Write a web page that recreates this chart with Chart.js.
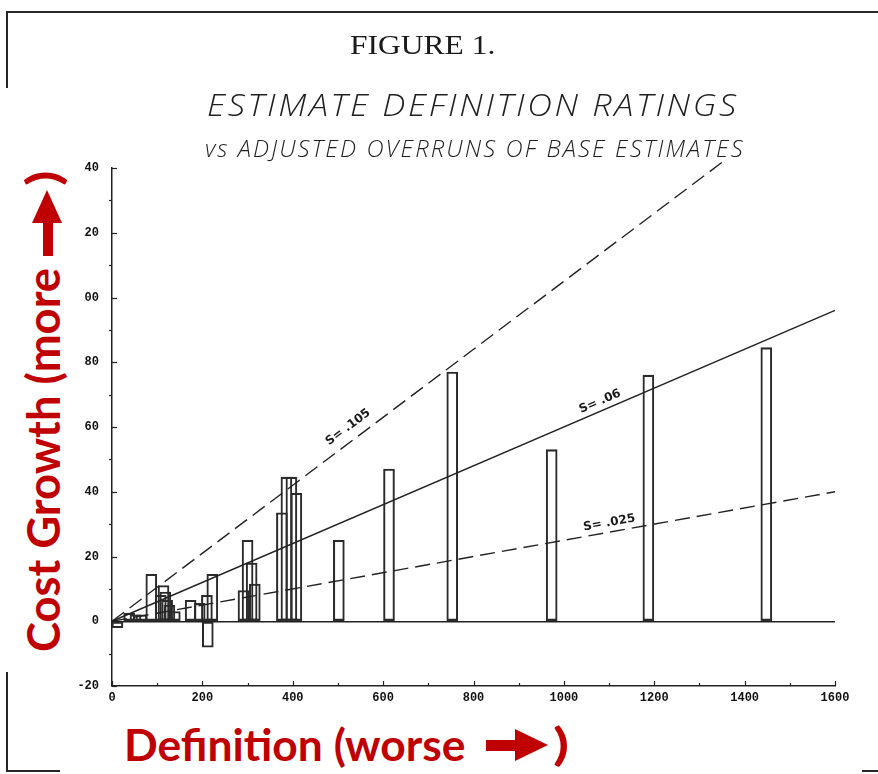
<!DOCTYPE html>
<html><head><meta charset="utf-8">
<script src="https://cdn.jsdelivr.net/npm/chart.js@4.4.1/dist/chart.umd.min.js"></script>
<style>
html,body{margin:0;padding:0;background:#fff;}
#wrap{position:relative;width:878px;height:774px;overflow:hidden;background:#fff;}
#frame{position:absolute;left:6px;top:11px;width:1000px;height:757px;border-top:2.5px solid #262626;border-left:2px solid #262626;border-bottom:2px solid #262626;z-index:0;}
canvas{position:absolute;left:0;top:0;z-index:1;}
.t{position:absolute;white-space:nowrap;line-height:1;transform-origin:0 0;z-index:3;display:inline-block;}
.mask{position:absolute;background:#fff;z-index:2;}
.red{color:#C00000;font-family:Lato,'Open Sans',sans-serif;font-weight:700;}
.plot{font-family:'Open Sans','DejaVu Sans',sans-serif;font-weight:300;font-style:italic;color:#1f1f1f;}
.arr{position:absolute;z-index:3;}
</style></head>
<body><div id="wrap">
<div id="frame"></div>
<canvas id="c" width="878" height="774"></canvas>
<div class="mask" style="left:0;top:88px;width:84px;height:584px"></div>
<div class="mask" style="left:60px;top:712px;width:802px;height:62px"></div>
<div id="fig" class="t" style="font-family:'Liberation Serif',serif;font-size:27px;color:#1a1a1a">FIGURE 1.</div>
<div id="t1" class="t plot" style="font-size:32px;letter-spacing:2.5px">ESTIMATE DEFINITION RATINGS</div>
<div id="t2" class="t plot" style="font-size:23px;letter-spacing:2px">vs ADJUSTED OVERRUNS OF BASE ESTIMATES</div>
<div id="xl" class="t red" style="font-size:44px">Definition (worse</div>
<div id="xp" class="t red" style="font-size:44px">)</div>
<div id="yl" class="t red" style="font-size:46px">Cost Growth (more</div>
<div id="yp" class="t red" style="font-size:46px">)</div>
<div class="arr" style="left:486px;top:729px;width:62px;height:33px">
  <div style="position:absolute;left:0;top:11px;width:31px;height:11px;background:#C00000"></div>
  <div style="position:absolute;left:29px;top:0;width:0;height:0;border-top:16.5px solid transparent;border-bottom:16.5px solid transparent;border-left:33px solid #C00000"></div>
</div>
<div class="arr" style="left:32px;top:190px;width:31px;height:66px">
  <div style="position:absolute;left:0;top:0;width:0;height:0;border-left:15.5px solid transparent;border-right:15.5px solid transparent;border-bottom:33px solid #C00000"></div>
  <div style="position:absolute;left:10.5px;top:31px;width:10px;height:35px;background:#C00000"></div>
</div>
</div>
<script>
// ---- data ----
const barX = [12, 38, 52, 65, 87, 108, 114, 118, 122, 127, 139, 174, 194, 210, 212, 222, 291, 300, 309, 316, 376, 386, 397, 408, 502, 613, 753, 973, 1187, 1448];
const barY = [-2, 2.5, 2, 2, 14.5, 8, 11, 9, 6.5, 5, 3, 6.5, 5.5, 8, -8, 14.5, 9.5, 25, 18, 11.5, 33.5, 44.5, 44.5, 39.5, 25, 47, 77, 53, 76, 84.5];
const slopes = [0.105, 0.06, 0.025];
const slopeLabels = ['S= .105', 'S= .06', 'S= .025'];
const slopeEndX = [1360, 1600, 1600];
const slopeLabelAtX = [540, 1088, 1104];
const slopeLabelLift = [10, 6, 6];
const slopeDash = [[15, 7], [], [15, 7]];
const xTickValues = [0, 200, 400, 600, 800, 1000, 1200, 1400, 1600];
const yTickValues = [-20, 0, 20, 40, 60, 80, 100, 120, 140];

// ---- text placement helpers ----
function fitX(id, x, y, w) {
  const el = document.getElementById(id);
  const nw = el.offsetWidth;
  el.style.left = x + 'px'; el.style.top = y + 'px';
  el.style.transform = 'scaleX(' + (w / nw) + ')';
}
function fitV(id, x, yStart, len) {
  const el = document.getElementById(id);
  const nw = el.offsetWidth;
  el.style.left = x + 'px'; el.style.top = yStart + 'px';
  el.style.transform = 'rotate(-90deg) scaleX(' + (len / nw) + ')';
}
fitX('fig', 350, 32, 146);
fitX('t1', 207, 88, 532);
fitX('t2', 205, 137, 540);
fitX('xl', 124, 722, 342);
fitX('xp', 553, 721, 16);
fitV('yl', 20, 652, 384);
fitV('yp', 20, 186, 16);

const bars = barX.map((x, i) => ({x: x, y: barY[i]}));
const lineSets = slopes.map((s, i) => ({
  type: 'line',
  data: [{x: 0, y: 0}, {x: slopeEndX[i], y: s * slopeEndX[i]}],
  borderColor: '#222', borderWidth: 1.4, borderDash: slopeDash[i],
  pointRadius: 0, fill: false, tension: 0, clip: 8, order: 0
}));

const axisTicks = {
  id: 'axisTicks',
  afterDraw(chart) {
    const {ctx, scales: {x, y}} = chart;
    ctx.save(); ctx.strokeStyle = '#222'; ctx.lineWidth = 1.2;
    const x0 = x.left, y0 = y.bottom;
    for (let v = -20; v <= 140; v += 10) {
      const py = Math.round(y.getPixelForValue(v)) + 0.5;
      ctx.beginPath();
      if (v % 20 === 0) { ctx.moveTo(x0, py); ctx.lineTo(x0 + 5, py); }
      else { ctx.moveTo(x0 - 3, py); ctx.lineTo(x0, py); }
      ctx.stroke();
    }
    for (let v = 0; v <= 1600; v += 100) {
      const px = Math.round(x.getPixelForValue(v)) + 0.5;
      ctx.beginPath(); ctx.moveTo(px, y0); ctx.lineTo(px, y0 - (v % 200 === 0 ? 5 : 3)); ctx.stroke();
    }
    ctx.restore();
  }
};
const slopeText = {
  id: 'slopeText',
  afterDatasetsDraw(chart) {
    const {ctx, scales: {x, y}} = chart;
    slopes.forEach((s, i) => {
      const xv = slopeLabelAtX[i];
      const px = x.getPixelForValue(xv), py = y.getPixelForValue(s * xv);
      const px2 = x.getPixelForValue(xv + 100), py2 = y.getPixelForValue(s * (xv + 100));
      const ang = Math.atan2(py2 - py, px2 - px);
      ctx.save(); ctx.translate(px, py); ctx.rotate(ang);
      ctx.font = 'bold 12px "DejaVu Sans"'; ctx.textAlign = 'center'; ctx.textBaseline = 'alphabetic';
      ctx.fillStyle = '#1a1a1a'; ctx.fillText(slopeLabels[i], 0, -slopeLabelLift[i]);
      ctx.restore();
    });
  }
};

const tickFont = {family: '"Liberation Mono", monospace', size: 12, weight: 'bold'};
new Chart(document.getElementById('c'), {
  type: 'bar',
  data: {
    datasets: [
      {type: 'bar', data: bars, backgroundColor: 'rgba(0,0,0,0)', borderColor: '#2b2b2b', borderWidth: 1.4, borderSkipped: false, barThickness: 11, order: 1},
      ...lineSets
    ]
  },
  options: {
    responsive: false, animation: false, devicePixelRatio: 1,
    layout: {padding: {left: 72, right: 43, top: 168, bottom: 58}},
    plugins: {legend: {display: false}, tooltip: {enabled: false}, title: {display: false}},
    scales: {
      x: {
        type: 'linear', min: 0, max: 1600, offset: false,
        afterBuildTicks(s) { s.ticks = xTickValues.map(v => ({value: v})); },
        ticks: {font: tickFont, color: '#111', padding: 5, maxRotation: 0, autoSkip: false, callback: v => String(v)},
        grid: {display: false, drawTicks: false, offset: false},
        border: {display: true, color: '#222', width: 1.5},
        afterFit(s) { s.height = 30; }
      },
      y: {
        type: 'linear', min: -20, max: 140,
        afterBuildTicks(s) { s.ticks = yTickValues.map(v => ({value: v})); },
        ticks: {font: tickFont, color: '#111', padding: 13, callback: v => String(v)},
        grid: {drawTicks: false, lineWidth: 1.4, color: c => (c.tick && c.tick.value === 0) ? '#222' : 'rgba(0,0,0,0)'},
        border: {display: true, color: '#222', width: 1.5},
        afterFit(s) { s.width = 40; }
      }
    }
  },
  plugins: [axisTicks, slopeText]
});
</script>
</body></html>
